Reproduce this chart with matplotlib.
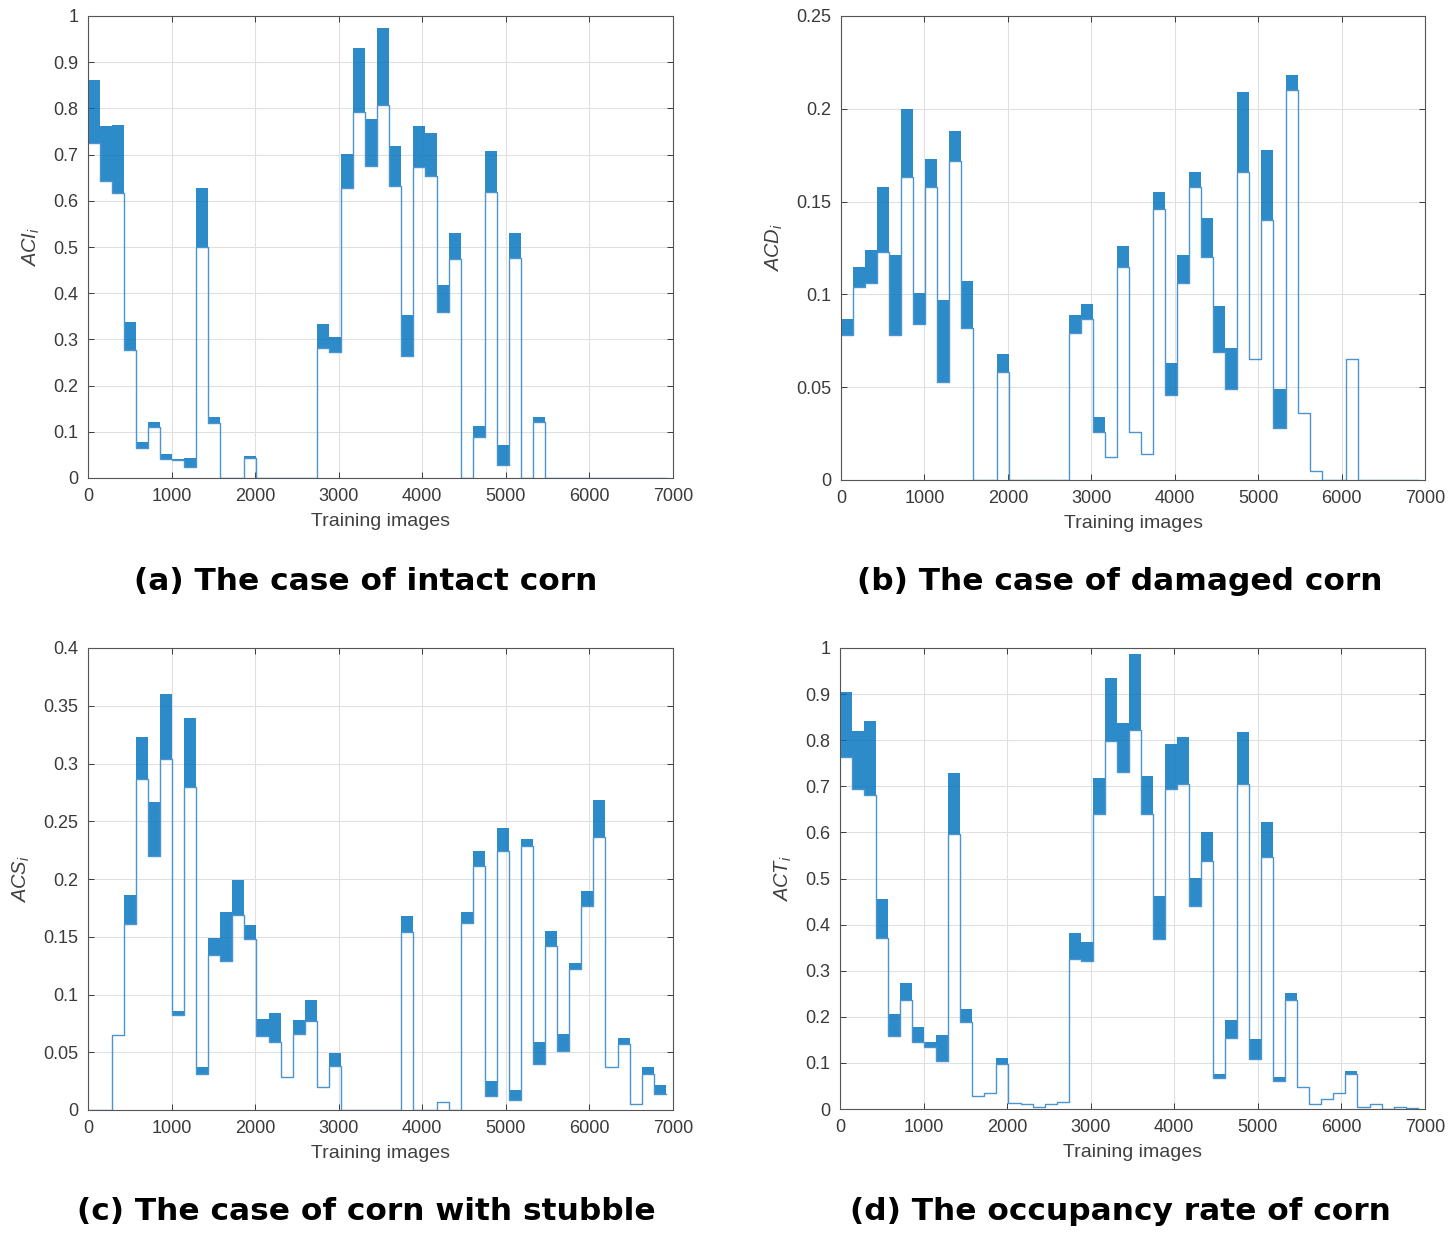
import numpy as np
import matplotlib
matplotlib.use('Agg')
import matplotlib.pyplot as plt
from matplotlib.ticker import FormatStrFormatter

plt.rcParams['font.family'] = ['Liberation Sans', 'DejaVu Sans']
plt.rcParams['mathtext.fontset'] = 'custom'
plt.rcParams['mathtext.it'] = 'Liberation Sans:italic'
plt.rcParams['mathtext.rm'] = 'Liberation Sans'

# bloques de entrenamiento (cada bloque ~144 imagenes)
block_size = 144
n_blocks = 48

# (a) intact corn: limite inferior / superior de la banda de cada bloque
aci_low = [0.725, 0.642, 0.616, 0.278, 0.065, 0.110, 0.041, 0.038, 0.023, 0.501,
           0.119, 0, 0, 0.043, 0, 0, 0, 0, 0, 0.281,
           0.273, 0.627, 0.793, 0.676, 0.808, 0.633, 0.263, 0.674, 0.654, 0.359,
           0.474, 0, 0.088, 0.620, 0.029, 0.476, 0, 0.121, 0, 0,
           0, 0, 0, 0, 0, 0, 0, 0]
aci_high = [0.861, 0.761, 0.764, 0.337, 0.079, 0.121, 0.053, 0.042, 0.043, 0.627,
            0.133, 0, 0, 0.047, 0, 0, 0, 0, 0, 0.333,
            0.306, 0.701, 0.930, 0.778, 0.975, 0.719, 0.353, 0.761, 0.746, 0.417,
            0.530, 0, 0.112, 0.707, 0.072, 0.530, 0, 0.131, 0, 0,
            0, 0, 0, 0, 0, 0, 0, 0]

# (b) damaged corn
acd_low = [0.078, 0.104, 0.106, 0.123, 0.078, 0.163, 0.084, 0.158, 0.053, 0.172,
           0.082, 0, 0, 0.058, 0, 0, 0, 0, 0, 0.079,
           0.087, 0.026, 0.0126, 0.115, 0.0258, 0.0139, 0.146, 0.046, 0.106, 0.158,
           0.120, 0.069, 0.049, 0.166, 0.065, 0.140, 0.028, 0.210, 0.036, 0.0046,
           0, 0, 0.065, 0, 0, 0, 0, 0]
acd_high = [0.087, 0.115, 0.124, 0.158, 0.121, 0.200, 0.101, 0.173, 0.097, 0.188,
            0.107, 0, 0, 0.068, 0, 0, 0, 0, 0, 0.089,
            0.095, 0.034, 0.0126, 0.126, 0.0258, 0.0139, 0.155, 0.063, 0.121, 0.166,
            0.141, 0.094, 0.071, 0.209, 0.065, 0.178, 0.049, 0.218, 0.036, 0.0046,
            0, 0, 0.065, 0, 0, 0, 0, 0]

# (c) corn with stubble
acs_low = [0, 0, 0.065, 0.161, 0.287, 0.220, 0.304, 0.082, 0.280, 0.031,
           0.134, 0.129, 0.169, 0.148, 0.064, 0.059, 0.029, 0.066, 0.077, 0.0196,
           0.038, 0, 0, 0, 0, 0, 0.154, 0, 0, 0.0066,
           0, 0.162, 0.211, 0.012, 0.224, 0.009, 0.229, 0.040, 0.142, 0.051,
           0.122, 0.177, 0.236, 0.037, 0.057, 0.005, 0.031, 0.014]
acs_high = [0, 0, 0.065, 0.186, 0.323, 0.267, 0.360, 0.086, 0.339, 0.037,
            0.149, 0.171, 0.199, 0.160, 0.079, 0.084, 0.029, 0.078, 0.095, 0.0196,
            0.049, 0, 0, 0, 0, 0, 0.168, 0, 0, 0.0066,
            0, 0.171, 0.224, 0.025, 0.244, 0.017, 0.235, 0.059, 0.155, 0.066,
            0.127, 0.190, 0.268, 0.037, 0.062, 0.005, 0.037, 0.022]

# (d) occupancy rate
act_low = [0.763, 0.694, 0.682, 0.370, 0.159, 0.236, 0.146, 0.134, 0.105, 0.597,
           0.188, 0.029, 0.035, 0.098, 0.012, 0.011, 0.004, 0.011, 0.015, 0.325,
           0.322, 0.640, 0.799, 0.730, 0.822, 0.640, 0.369, 0.694, 0.705, 0.441,
           0.539, 0.067, 0.154, 0.706, 0.108, 0.547, 0.060, 0.236, 0.047, 0.011,
           0.022, 0.035, 0.076, 0.004, 0.011, 0, 0.005, 0.002]
act_high = [0.904, 0.819, 0.841, 0.456, 0.206, 0.273, 0.177, 0.145, 0.161, 0.728,
            0.217, 0.029, 0.035, 0.111, 0.012, 0.011, 0.004, 0.011, 0.015, 0.381,
            0.363, 0.719, 0.934, 0.837, 0.987, 0.723, 0.463, 0.792, 0.806, 0.501,
            0.600, 0.077, 0.192, 0.817, 0.152, 0.622, 0.069, 0.251, 0.047, 0.011,
            0.022, 0.035, 0.083, 0.004, 0.011, 0, 0.005, 0.002]

ylabels = [r'$ACI_i$', r'$ACD_i$', r'$ACS_i$', r'$ACT_i$']
captions = ['(a) The case of intact corn', '(b) The case of damaged corn',
            '(c) The case of corn with stubble', '(d) The occupancy rate of corn']
ytops = [1, 0.25, 0.4, 1]
ysteps = [0.1, 0.05, 0.05, 0.1]

# posiciones de los ejes en pixeles (izq, der, arriba, abajo)
W, H = 1453, 1238
boxes = [(88, 673, 16, 478), (841, 1425, 16, 480),
         (88, 673, 648, 1110), (840, 1425, 648, 1109)]
cap_pos = [(366, 581), (1120, 581), (366, 1211), (1120, 1211)]

blue = '#0072BD'
axcol = '#3a3a3a'

fig = plt.figure(figsize=(W / 100, H / 100), dpi=100)

series = [(aci_low, aci_high), (acd_low, acd_high), (acs_low, acs_high), (act_low, act_high)]
edges = np.arange(n_blocks + 1) * block_size

for k in range(4):
    l, r, t, b = boxes[k]
    ax = fig.add_axes([l / W, 1 - b / H, (r - l) / W, (b - t) / H])
    lo = np.array(series[k][0] + [series[k][0][-1]])
    hi = np.array(series[k][1] + [series[k][1][-1]])
    # banda de oscilacion de cada bloque
    ax.fill_between(edges, lo, hi, step='post', color=blue, alpha=0.82, lw=0)
    # linea escalonada
    ax.plot(edges, lo, drawstyle='steps-post', color='#4a95cf', lw=1.0)
    ax.set_xlim(0, 7000)
    ax.set_ylim(0, ytops[k])
    ax.set_xticks(np.arange(0, 7001, 1000))
    ax.set_yticks(np.arange(0, ytops[k] + 1e-9, ysteps[k]))
    ax.yaxis.set_major_formatter(FormatStrFormatter('%g'))
    ax.grid(True, color='#e0e0e0', lw=0.8)
    ax.set_axisbelow(True)
    ax.tick_params(direction='in', top=True, right=True, length=4, width=0.7,
                   colors=axcol, labelsize=13, pad=7)
    for s in ax.spines.values():
        s.set_color('#555555')
        s.set_linewidth(0.8)
    ax.set_xlabel('Training images', fontsize=14, color='#404040', labelpad=6)
    ax.set_ylabel(ylabels[k], fontsize=14.5, color='#404040', labelpad=8)
    cx, cy = cap_pos[k]
    fig.text(cx / W, 1 - cy / H, captions[k], ha='center', va='center',
             fontsize=22.5, fontweight='bold', family=['DejaVu Sans'])

fig.savefig('out.png', dpi=100)
